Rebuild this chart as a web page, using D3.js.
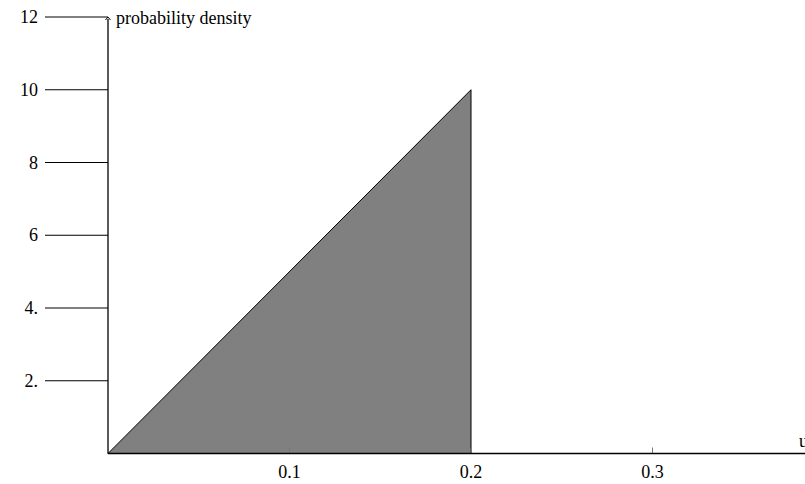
<!DOCTYPE html>
<html>
<head>
<meta charset="utf-8">
<script src="https://cdn.jsdelivr.net/npm/d3@7"></script>
<style>
  body { margin: 0; background: #fff; }
  text { font-family: "Liberation Serif", "DejaVu Serif", serif; fill: #000; }
</style>
</head>
<body>
<svg id="chart" width="805" height="484"></svg>
<script>
// density of the triangle distribution on [0, 0.2]
const densityX = [0, 0.2, 0.2];
const densityY = [0, 10, 0];
const xTicks = [0.1, 0.2, 0.3];
const xTickLabels = ['0.1', '0.2', '0.3'];
const yTicks = [2, 4, 6, 8, 10, 12];
const yTickLabels = ['2.', '4.', '6', '8', '10', '12'];

const FONT = 18;
const svg = d3.select('#chart');

const x = d3.scaleLinear().domain([0, 0.1]).range([108, 289.5]);
const y = d3.scaleLinear().domain([0, 12]).range([453.5, 17]);

const pts = densityX.map((d, i) => [x(d), y(densityY[i])]);

// filled triangle
svg.append('path')
	.attr('d', d3.line()(pts) + 'Z')
	.attr('fill', '#808080')
	.attr('stroke', '#000')
	.attr('stroke-width', 1);

// y tick lines (drawn to the left of the axis)
svg.append('g')
	.selectAll('line')
	.data(yTicks)
	.enter()
	.append('line')
	.attr('x1', 45)
	.attr('x2', x(0))
	.attr('y1', (d) => y(d))
	.attr('y2', (d) => y(d))
	.attr('stroke', '#000')
	.attr('stroke-width', 1);

svg.append('g')
	.selectAll('text')
	.data(yTicks)
	.enter()
	.append('text')
	.attr('x', 38)
	.attr('y', (d) => y(d) + 6)
	.attr('text-anchor', 'end')
	.attr('font-size', FONT)
	.text((d, i) => yTickLabels[i]);

// x ticks: short marks above the axis
svg.append('g')
	.selectAll('line')
	.data(xTicks)
	.enter()
	.append('line')
	.attr('x1', (d) => x(d))
	.attr('x2', (d) => x(d))
	.attr('y1', y(0))
	.attr('y2', y(0) - 6)
	.attr('stroke', '#777')
	.attr('stroke-width', 1);

svg.append('g')
	.selectAll('text')
	.data(xTicks)
	.enter()
	.append('text')
	.attr('x', (d) => x(d))
	.attr('y', 478)
	.attr('text-anchor', 'middle')
	.attr('font-size', FONT)
	.text((d, i) => xTickLabels[i]);

// axes
svg.append('line')
	.attr('x1', x(0)).attr('x2', 805)
	.attr('y1', y(0)).attr('y2', y(0))
	.attr('stroke', '#000').attr('stroke-width', 1.3);

svg.append('line')
	.attr('x1', x(0)).attr('x2', x(0))
	.attr('y1', y(0)).attr('y2', y(12) + 2)
	.attr('stroke', '#000').attr('stroke-width', 1.3);

// small arrowhead at top of y axis
svg.append('path')
	.attr('d', `M${x(0) - 2.5},${y(12) + 3} L${x(0)},${y(12)} L${x(0) + 2.5},${y(12) + 3}`)
	.attr('fill', 'none')
	.attr('stroke', '#000')
	.attr('stroke-width', 1);

svg.append('text')
	.attr('x', 116)
	.attr('y', 24)
	.attr('font-size', FONT)
	.text('probability density');

svg.append('text')
	.attr('x', 799)
	.attr('y', 447)
	.attr('font-size', FONT)
	.text('u');
</script>
</body>
</html>
